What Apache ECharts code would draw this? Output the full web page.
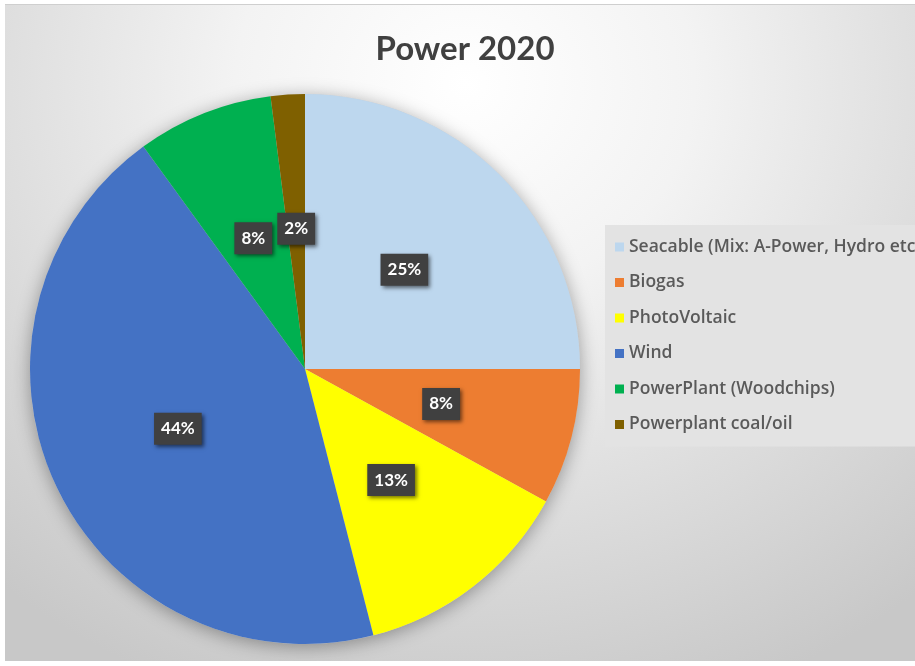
<!DOCTYPE html>
<html>
<head>
<meta charset="utf-8">
<script src="https://cdn.jsdelivr.net/npm/echarts@6/dist/echarts.min.js"></script>
<style>
  html, body { margin: 0; padding: 0; background: #ffffff; overflow: hidden; width: 915px; height: 666px; }
  #frame {
    position: absolute; left: 5px; top: 4px; width: 920px; height: 656px;
    border-top: 1px solid #cfcfcf;
    background: radial-gradient(ellipse 78% 100% at 50% 12%, #ffffff 0%, #f3f3f3 32%, #dcdcdc 68%, #c8c8c8 100%);
  }
  #chart { width: 920px; height: 656px; }
</style>
</head>
<body>
<div id="frame"><div id="chart"></div></div>
<script>
// Power sources in 2020, share of total (%)
const chartTitle = 'Power 2020';
const sources = [
  'Seacable (Mix: A-Power, Hydro etc)',
  'Biogas',
  'PhotoVoltaic',
  'Wind',
  'PowerPlant (Woodchips)',
  'Powerplant coal/oil'
];
const shares = [25, 8, 13, 44, 8, 2];
const sliceColors = ['#bdd7ee', '#ed7d31', '#ffff00', '#4472c4', '#00b050', '#7f6000'];

const pieCenter = [300, 364];
const pieRadius = 275;

const chart = echarts.init(document.getElementById('chart'), null, { renderer: 'canvas' });

chart.setOption({
  backgroundColor: 'transparent',
  animation: false,
  title: {
    text: chartTitle,
    left: 'center',
    top: 23,
    textStyle: { fontFamily: 'Lato', fontWeight: 'bold', fontSize: 33, color: '#404040' }
  },
  legend: {
    orient: 'vertical',
    left: 600,
    top: 220,
    padding: [13, 40, 13, 10],
    backgroundColor: '#e3e3e3',
    icon: 'rect',
    itemWidth: 9,
    itemHeight: 9,
    itemGap: 17.5,
    data: sources,
    textStyle: { fontFamily: 'Open Sans', fontWeight: 600, fontSize: 17.5, color: '#5a5a5a' },
    selectedMode: false
  },
  series: [
    {
      // soft drop shadow behind the whole pie
      type: 'pie',
      silent: true,
      z: 1,
      center: pieCenter,
      radius: pieRadius,
      label: { show: false },
      labelLine: { show: false },
      data: [{ value: 1, name: '' }],
      itemStyle: { color: '#cfcfcf', shadowBlur: 18, shadowColor: 'rgba(0,0,0,0.35)', shadowOffsetY: 3 },
      legendHoverLink: false
    },
    {
      type: 'pie',
      z: 2,
      center: pieCenter,
      radius: pieRadius,
      startAngle: 90,
      clockwise: true,
      avoidLabelOverlap: false,
      data: sources.map((name, i) => ({ name, value: shares[i], itemStyle: { color: sliceColors[i] } })),
      label: {
        show: true,
        position: 'inside',
        formatter: p => p.value + '%',
        fontFamily: 'Lato',
        fontWeight: 'bold',
        fontSize: 17,
        lineHeight: 18,
        color: '#ffffff',
        backgroundColor: '#404040',
        padding: [7, 7],
        shadowBlur: 4,
        shadowOffsetX: 2,
        shadowOffsetY: 2,
        shadowColor: 'rgba(0,0,0,0.55)'
      },
      labelLine: { show: false },
      emphasis: { disabled: true }
    }
  ]
});
</script>
</body>
</html>
